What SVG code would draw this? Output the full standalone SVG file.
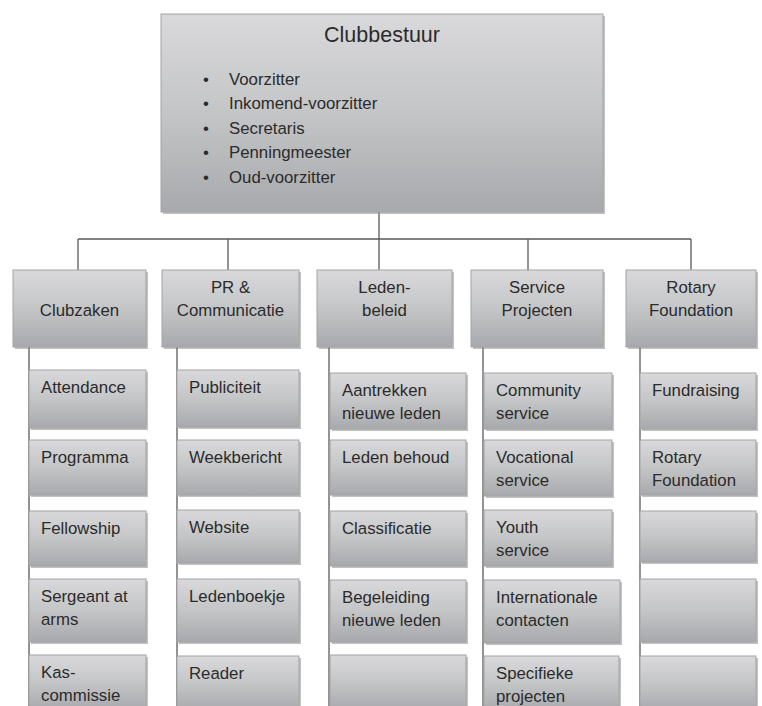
<svg xmlns="http://www.w3.org/2000/svg" width="762" height="706" viewBox="0 0 762 706">
<defs>
<linearGradient id="g" x1="0" y1="0" x2="0" y2="1">
<stop offset="0" stop-color="#d9d9db"/>
<stop offset="0.5" stop-color="#c4c5c7"/>
<stop offset="1" stop-color="#a8a9ac"/>
</linearGradient>
<style>
.b{fill:url(#g);stroke:#a3a3a5;stroke-width:1}
.s{fill:#8e8e90;opacity:0.55}
.t{font-family:"Liberation Sans",Arial,sans-serif;font-size:16.8px;fill:#2b2b2b}
.c{text-anchor:middle}
.ln{stroke:#5a5a5a;stroke-width:1.3;fill:none}
</style>
</defs>
<rect width="762" height="706" fill="#ffffff"/>
<g id="connectors">
<path class="ln" d="M379 212V239M78 239H691M78 239V270M228 239V270M379 239V270M528 239V270M691 239V270"/>
<path class="ln" d="M29 347V706M177 347V706M329 347V706M483 347V706M640 347V706"/>
</g>
<g id="clubbestuur">
<rect class="s" x="163" y="16" width="442" height="198"/>
<rect class="b" x="161" y="14" width="442" height="198"/>
<text class="t c" x="382" y="42" style="font-size:21.5px">Clubbestuur</text>
<g class="t">
<text x="203" y="85">•</text><text x="229" y="85">Voorzitter</text>
<text x="203" y="109">•</text><text x="229" y="109">Inkomend-voorzitter</text>
<text x="203" y="134">•</text><text x="229" y="134">Secretaris</text>
<text x="203" y="158">•</text><text x="229" y="158">Penningmeester</text>
<text x="203" y="183">•</text><text x="229" y="183">Oud-voorzitter</text>
</g>
</g>
<g id="clubzaken">
<rect class="s" x="15" y="272" width="133" height="77"/>
<rect class="b" x="13" y="270" width="133" height="77"/>
<text class="t c" x="79.5" y="316">Clubzaken</text>
</g>
<g id="pr">
<rect class="s" x="164" y="272" width="137" height="77"/>
<rect class="b" x="162" y="270" width="137" height="77"/>
<text class="t c" x="230.5" y="293">PR &amp;</text>
<text class="t c" x="230.5" y="316">Communicatie</text>
</g>
<g id="ledenbeleid">
<rect class="s" x="319" y="272" width="135" height="77"/>
<rect class="b" x="317" y="270" width="135" height="77"/>
<text class="t c" x="384.5" y="293">Leden-</text>
<text class="t c" x="384.5" y="316">beleid</text>
</g>
<g id="service">
<rect class="s" x="473" y="272" width="132" height="77"/>
<rect class="b" x="471" y="270" width="132" height="77"/>
<text class="t c" x="537" y="293">Service</text>
<text class="t c" x="537" y="316">Projecten</text>
</g>
<g id="rotary">
<rect class="s" x="628" y="272" width="130" height="77"/>
<rect class="b" x="626" y="270" width="130" height="77"/>
<text class="t c" x="691" y="293">Rotary</text>
<text class="t c" x="691" y="316">Foundation</text>
</g>
<!-- Clubzaken children -->
<g id="attendance"><rect class="s" x="31" y="372" width="117" height="58"/><rect class="b" x="29" y="370" width="117" height="58"/><text class="t" x="41" y="393">Attendance</text></g>
<g id="programma"><rect class="s" x="31" y="442" width="117" height="55"/><rect class="b" x="29" y="440" width="117" height="55"/><text class="t" x="41" y="463">Programma</text></g>
<g id="fellowship"><rect class="s" x="31" y="513" width="117" height="55"/><rect class="b" x="29" y="511" width="117" height="55"/><text class="t" x="41" y="534">Fellowship</text></g>
<g id="sergeant"><rect class="s" x="31" y="581" width="117" height="63"/><rect class="b" x="29" y="579" width="117" height="63"/><text class="t" x="41" y="602">Sergeant at</text><text class="t" x="41" y="624.5">arms</text></g>
<g id="kascommissie"><rect class="s" x="31" y="657" width="117" height="55"/><rect class="b" x="29" y="655" width="117" height="55"/><text class="t" x="41" y="678">Kas-</text><text class="t" x="41" y="700.5">commissie</text></g>
<!-- PR children -->
<g id="publiciteit"><rect class="s" x="179" y="372" width="122" height="57"/><rect class="b" x="177" y="370" width="122" height="57"/><text class="t" x="189" y="393">Publiciteit</text></g>
<g id="weekbericht"><rect class="s" x="179" y="442" width="122" height="55"/><rect class="b" x="177" y="440" width="122" height="55"/><text class="t" x="189" y="463">Weekbericht</text></g>
<g id="website"><rect class="s" x="179" y="512" width="122" height="53"/><rect class="b" x="177" y="510" width="122" height="53"/><text class="t" x="189" y="533">Website</text></g>
<g id="ledenboekje"><rect class="s" x="179" y="581" width="122" height="63"/><rect class="b" x="177" y="579" width="122" height="63"/><text class="t" x="189" y="602">Ledenboekje</text></g>
<g id="reader"><rect class="s" x="179" y="658" width="122" height="55"/><rect class="b" x="177" y="656" width="122" height="55"/><text class="t" x="189" y="679">Reader</text></g>
<!-- Leden children -->
<g id="aantrekken"><rect class="s" x="332" y="375" width="136" height="56"/><rect class="b" x="330" y="373" width="136" height="56"/><text class="t" x="342" y="396">Aantrekken</text><text class="t" x="342" y="418.5">nieuwe leden</text></g>
<g id="ledenbehoud"><rect class="s" x="332" y="442" width="136" height="55"/><rect class="b" x="330" y="440" width="136" height="55"/><text class="t" x="342" y="463">Leden behoud</text></g>
<g id="classificatie"><rect class="s" x="332" y="513" width="136" height="55"/><rect class="b" x="330" y="511" width="136" height="55"/><text class="t" x="342" y="534">Classificatie</text></g>
<g id="begeleiding"><rect class="s" x="332" y="582" width="136" height="62"/><rect class="b" x="330" y="580" width="136" height="62"/><text class="t" x="342" y="603">Begeleiding</text><text class="t" x="342" y="625.5">nieuwe leden</text></g>
<g id="leden-leeg"><rect class="s" x="332" y="657" width="136" height="55"/><rect class="b" x="330" y="655" width="136" height="55"/></g>
<!-- Service children -->
<g id="community"><rect class="s" x="486" y="375" width="128" height="56"/><rect class="b" x="484" y="373" width="128" height="56"/><text class="t" x="496" y="396">Community</text><text class="t" x="496" y="418.5">service</text></g>
<g id="vocational"><rect class="s" x="486" y="442" width="128" height="56"/><rect class="b" x="484" y="440" width="128" height="56"/><text class="t" x="496" y="463">Vocational</text><text class="t" x="496" y="485.5">service</text></g>
<g id="youth"><rect class="s" x="486" y="512" width="128" height="56"/><rect class="b" x="484" y="510" width="128" height="56"/><text class="t" x="496" y="533">Youth</text><text class="t" x="496" y="555.5">service</text></g>
<g id="internationale"><rect class="s" x="486" y="582" width="136" height="63"/><rect class="b" x="484" y="580" width="136" height="63"/><text class="t" x="496" y="603">Internationale</text><text class="t" x="496" y="625.5">contacten</text></g>
<g id="specifieke"><rect class="s" x="486" y="658" width="135" height="55"/><rect class="b" x="484" y="656" width="135" height="55"/><text class="t" x="496" y="679">Specifieke</text><text class="t" x="496" y="701.5">projecten</text></g>
<!-- Rotary children -->
<g id="fundraising"><rect class="s" x="642" y="375" width="116" height="56"/><rect class="b" x="640" y="373" width="116" height="56"/><text class="t" x="652" y="396">Fundraising</text></g>
<g id="rotaryfoundation"><rect class="s" x="642" y="442" width="116" height="55"/><rect class="b" x="640" y="440" width="116" height="55"/><text class="t" x="652" y="463">Rotary</text><text class="t" x="652" y="485.5">Foundation</text></g>
<g id="rotary-leeg1"><rect class="s" x="642" y="513" width="116" height="51"/><rect class="b" x="640" y="511" width="116" height="51"/></g>
<g id="rotary-leeg2"><rect class="s" x="642" y="581" width="116" height="63"/><rect class="b" x="640" y="579" width="116" height="63"/></g>
<g id="rotary-leeg3"><rect class="s" x="642" y="658" width="116" height="55"/><rect class="b" x="640" y="656" width="116" height="55"/></g>
</svg>
